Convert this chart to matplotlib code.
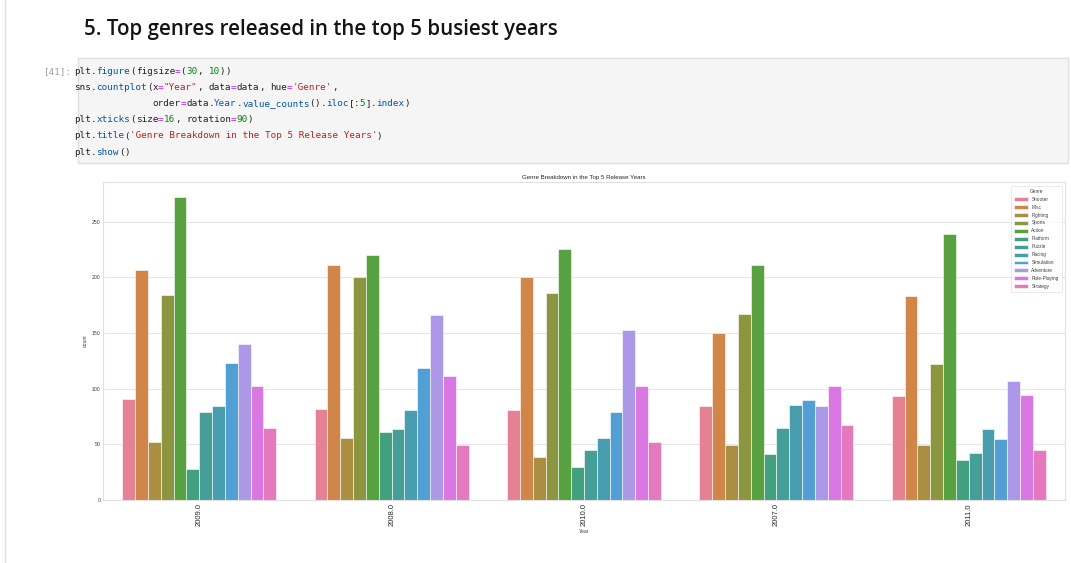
import re
import matplotlib
matplotlib.use("Agg")
import matplotlib.pyplot as plt
from matplotlib.patches import Rectangle
import numpy as np
import seaborn as sns

# ---------------- data ----------------
years = ["2009.0", "2008.0", "2010.0", "2007.0", "2011.0"]
genres = ["Shooter", "Misc", "Fighting", "Sports", "Action", "Platform",
          "Puzzle", "Racing", "Simulation", "Adventure", "Role-Playing", "Strategy"]
counts_2009 = [91, 207, 52, 184, 272, 28, 79, 84, 123, 140, 102, 65]
counts_2008 = [82, 211, 56, 200, 220, 61, 64, 81, 119, 166, 111, 49]
counts_2010 = [81, 200, 39, 186, 225, 30, 45, 56, 79, 153, 102, 52]
counts_2007 = [84, 150, 49, 167, 211, 41, 65, 85, 90, 84, 102, 67]
counts_2011 = [93, 183, 49, 122, 239, 36, 42, 64, 55, 107, 94, 45]

heading = "5. Top genres released in the top 5 busiest years"
prompt = "[41]:"
code_lines = [
    'plt.figure(figsize=(30, 10))',
    'sns.countplot(x="Year", data=data, hue=\'Genre\',',
    '              order=data.Year.value_counts().iloc[:5].index)',
    'plt.xticks(size=16, rotation=90)',
    'plt.title(\'Genre Breakdown in the Top 5 Release Years\')',
    'plt.show()',
]
chart_title = "Genre Breakdown in the Top 5 Release Years"

# ---------------- style ----------------
sns.set_style("whitegrid")
plt.rcParams["font.family"] = ["Liberation Sans", "DejaVu Sans"]

W, H = 1071, 563
fig = plt.figure(figsize=(W / 100, H / 100), dpi=100)
fig.patch.set_facecolor("white")

def fx(px):
    return px / W

def fy(py):
    return 1 - py / H

# page left border
fig.add_artist(plt.Line2D([fx(4.5), fx(4.5)], [0, 1], color="#e0e0e0", lw=1))

# heading
fig.text(fx(84), fy(29.5), heading, fontsize=14.8, fontweight="semibold",
         family=["Open Sans", "DejaVu Sans"], color="#141414", va="center", ha="left")

# code cell
fig.add_artist(Rectangle((fx(78), fy(163)), fx(1068) - fx(78), fy(58) - fy(163),
                         transform=fig.transFigure, facecolor="#f5f5f5",
                         edgecolor="#e0e0e0", lw=1))
mono = "DejaVu Sans Mono"
code_fs = 6.7
fig.text(fx(72), fy(74), prompt, fontsize=code_fs, family=mono, color="#9e9e9e",
         va="baseline", ha="right")

cw = code_fs * 100 / 72 * (1233 / 2048)   # advance of DejaVu Sans Mono

tok_re = re.compile(r'("[^"]*"|\'[^\']*\'|\d+|[A-Za-z_]\w*|=|\s+|.)')
COLORS = {"str": "#ba2121", "num": "#008800", "op": "#aa22ff",
          "prop": "#0055aa", "txt": "#212121"}
x0 = 74
line_y = [71, 87, 103.3, 119.3, 135.5, 151.8]
for li, line in enumerate(code_lines):
    prev = ""
    for m in tok_re.finditer(line):
        t = m.group(0)
        if t.isspace():
            continue
        if t[0] in "\"'":
            k = "str"
        elif t.isdigit():
            k = "num"
        elif t == "=":
            k = "op"
        elif re.match(r"[A-Za-z_]", t) and prev == ".":
            k = "prop"
        else:
            k = "txt"
        xl = x0 + m.start() * cw
        fig.text(fx(xl), fy(line_y[li] + 3), t, fontsize=code_fs, family=mono,
                 color=COLORS[k], va="baseline", ha="left")
        prev = t

# ---------------- chart ----------------
ax = fig.add_axes([fx(103), fy(500), fx(1065) - fx(103), fy(182) - fy(500)])
ax.set_facecolor("white")

palette = [sns.desaturate(c, 0.75) for c in sns.husl_palette(len(genres))]
all_counts = [counts_2009, counts_2008, counts_2010, counts_2007, counts_2011]
data = np.array(all_counts)  # shape (years, genres)

n = len(genres)
bw = 0.8 / n
xpos = np.arange(len(years))
for gi, g in enumerate(genres):
    offs = -0.4 + bw * (gi + 0.5)
    ax.bar(xpos + offs, data[:, gi], width=bw, color=palette[gi],
           edgecolor="white", linewidth=0.4, label=g, zorder=2)

ax.set_xlim(-0.5, len(years) - 0.5)
ax.set_ylim(0, data.max() * 1.05)
ax.set_xticks(xpos)
ax.set_xticklabels(years, rotation=90, fontsize=5.5, color="#262626")
ax.set_yticks([0, 50, 100, 150, 200, 250])
ax.tick_params(axis="y", labelsize=3.7, pad=2, length=0, colors="#404040")
ax.tick_params(axis="x", pad=2.5, length=0)
ax.set_ylabel("count", fontsize=3.7, labelpad=3, color="#404040")
ax.set_xlabel("Year", fontsize=3.7, labelpad=1.5, color="#404040")
ax.set_title(chart_title, fontsize=4.4, pad=2.5, color="#262626")
ax.grid(axis="y", color="#e6e6e6", lw=0.8, zorder=0)
ax.grid(axis="x", visible=False)
for s in ax.spines.values():
    s.set_color("#e0e0e0")
    s.set_linewidth(0.8)

leg = ax.legend(title="Genre", loc="upper right", fontsize=3.4, title_fontsize=3.4,
                labelspacing=0.62, handlelength=3.0, handleheight=0.9,
                borderpad=0.6, frameon=True, fancybox=True,
                bbox_to_anchor=(0.999, 0.995))
leg.get_frame().set_edgecolor("#e0e0e0")
leg.get_frame().set_linewidth(0.6)
for t in leg.get_texts():
    t.set_color("#404040")
leg.get_title().set_color("#404040")

fig.savefig("out.png", dpi=100, facecolor="white")
